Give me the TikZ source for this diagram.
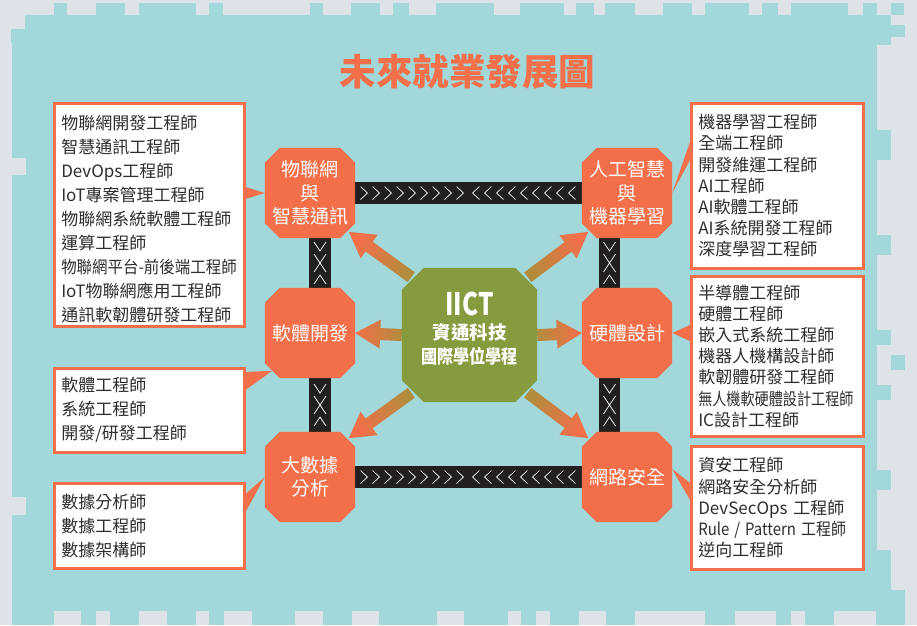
\documentclass[tikz,border=0pt]{standalone}
\usepackage{fontspec}
\usepackage{graphicx}
\usepackage{xcolor}
\setmainfont{Noto Sans CJK TC}
\usetikzlibrary{calc,backgrounds}
\definecolor{aqua}{HTML}{A2D8D9}
\definecolor{mist}{HTML}{DEE3EA}
\definecolor{coral}{HTML}{F36F4A}
\definecolor{moss}{HTML}{869A3E}
\definecolor{ochre}{HTML}{B38B3C}
\definecolor{tar}{HTML}{231F20}
\definecolor{ink}{HTML}{2E2E2E}

\begin{document}
\begin{tikzpicture}[x=1pt,y=-1pt,
        octo/.style={rectangle,minimum width=90pt,minimum height=90pt,inner sep=0pt,text=white,
                align=center,font=\fontsize{19}{23.5}\selectfont},
        hub/.style={rectangle,minimum width=135pt,minimum height=134pt,inner sep=0pt},
        jobs/.style={draw=coral,line width=2.5pt,fill=white,anchor=north west,inner xsep=7pt,
                inner ysep=0pt,align=left,text=ink},
        leftjobs/.style={jobs,text width=176pt,font=\fontsize{17}{24}\selectfont},
        rightjobs/.style={jobs,text width=158pt,font=\fontsize{17}{21.2}\selectfont},
        bar/.style={draw=tar,line width=21.5pt},
        chev/.style={draw=white,line width=0.7pt},
        tail/.style={fill=coral}]
        \node[text=coral,font=\fontsize{36.5}{36.5}\selectfont\bfseries] (title) at (467.5,72) {未來就業發展圖};
        \node[octo] (iot) at (310,193) {物聯網\\與\\智慧通訊};
        \node[octo] (ai) at (627,193) {人工智慧\\與\\機器學習};
        \node[octo] (sw) at (310,333) {軟體開發};
        \node[octo] (hw) at (627,333) {硬體設計};
        \node[octo] (bd) at (310,477) {大數據\\分析};
        \node[octo] (net) at (627,477) {網路安全};
        \node[hub] (iict) at (469.5,335) {};
        \node[text=white,align=center,font=\fontsize{18.5}{24}\selectfont\bfseries] (iictname) at ($(iict)+(0,-6)$)
                {{\fontsize{31}{31}\selectfont\scalebox{0.78}[1]{IICT}}\\資通科技\\\scalebox{0.87}[1]{國際學位學程}};
        \node[leftjobs,minimum height=223pt] (iotjobs) at (53,102) {\rule{0pt}{23pt}物聯網開發工程師\\智慧通訊工程師\\DevOps工程師\\IoT專案管理工程師\\物聯網系統軟體工程師\\運算工程師\\\scalebox{0.91}[1]{物聯網平台-前後端工程師}\\IoT物聯網應用工程師\\通訊軟韌體研發工程師};
        \node[leftjobs,minimum height=84pt] (swjobs) at (53,367) {軟體工程師\\系統工程師\\開發/研發工程師};
        \node[leftjobs,minimum height=85pt] (bdjobs) at (53,482) {數據分析師\\數據工程師\\數據架構師};
        \node[rightjobs,minimum height=165pt] (aijobs) at (690,102) {機器學習工程師\\全端工程師\\開發維運工程師\\AI工程師\\AI軟體工程師\\AI系統開發工程師\\深度學習工程師};
        \node[rightjobs,minimum height=160pt] (hwjobs) at (690,275) {半導體工程師\\硬體工程師\\嵌入式系統工程師\\機器人機構設計師\\軟韌體研發工程師\\\scalebox{0.83}[1]{無人機軟硬體設計工程師}\\IC設計工程師};
        \node[rightjobs,minimum height=123pt] (netjobs) at (690,445) {資安工程師\\網路安全分析師\\DevSecOps 工程師\\\scalebox{0.88}[1]{Rule / Pattern 工程師}\\逆向工程師};
        \fill[tail] ($(iotjobs.east |- iot.west)+(0,-6)$) -- (iot.west) -- ($(iotjobs.east |- iot.west)+(0,6)$) -- cycle;
        \fill[tail] ($(swjobs.north east)+(0,5)$) -- ($(sw)!0.835!(sw.south west)$) -- ($(swjobs.north east)+(0,23)$) -- cycle;
        \fill[tail] ($(bdjobs.north east)+(0,12)$) -- (bd.west) -- ($(bdjobs.north east)+(0,30)$) -- cycle;
        \fill[tail] ($(aijobs.north west)+(0,40)$) -- (ai.east) -- ($(aijobs.north west)+(0,58)$) -- cycle;
        \fill[tail] ($(hwjobs.west |- hw.east)+(0,-8)$) -- (hw.east) -- ($(hwjobs.west |- hw.east)+(0,8)$) -- cycle;
        \fill[tail] ($(netjobs.north west)+(0,38)$) -- ($(net.east)+(0,-8)$) -- ($(netjobs.north west)+(0,55)$) -- cycle;
        \coordinate (topmid) at ($(iot)!0.5!(ai)$);
        \coordinate (botmid) at ($(bd)!0.5!(net)$);
        \coordinate (lmidup) at ($(iot)!0.5!(sw)+(10,0)$);
        \coordinate (lmiddown) at ($(sw)!0.5!(bd)+(10,0)$);
        \coordinate (rmidup) at ($(ai)!0.5!(hw)+(-17.5,0)$);
        \coordinate (rmiddown) at ($(hw)!0.5!(net)+(-17.5,0)$);
        \foreach \m in {topmid,botmid}
                \foreach \k in {0,...,8}
                {
                        \draw[chev] ($(\m)+(-12*\k-12,-6.5)$) -- ++(7pt,-6.5pt) -- ++(-7pt,-6.5pt);
                        \draw[chev] ($(\m)+(12*\k+11,-6.5)$) -- ++(-7pt,-6.5pt) -- ++(7pt,-6.5pt);
                }
        \foreach \m in {lmidup,lmiddown,rmidup,rmiddown}
                \foreach \s in {21,9}
                {
                        \draw[chev] ($(\m)+(-6,-\s)$) -- ++(6pt,-9pt) -- ++(6pt,9pt);
                        \draw[chev] ($(\m)+(-6,\s)$) -- ++(6pt,9pt) -- ++(6pt,-9pt);
                }
        \begin{pgfonlayer}{background}
                \fill[mist] (0,0) rectangle (917,625);
                \fill[aqua] (12,43) rectangle (877,611);
                \fill[aqua] (25,15) rectangle (877,43);
                \fill[aqua] (11,29) rectangle (25,43);
                \fill[mist] (12,158) rectangle (26,175);
                \fill[mist] (12,497) rectangle (26,515);
                \foreach \a/\b in {54/67,96/125,139/196,209/223,310/323,351/380,393/409,436/494,520/564,576/594,605/635,663/692,705/749,762/778,791/848,863/877,891/904}
                        \fill[aqua] (\a,3) rectangle (\b,15);
                \foreach \a/\b in {15/45,130/160,235/255,330/345,385/400,470/490,550/611}
                        \fill[aqua] (877,\a) rectangle (891,\b);
                \foreach \a/\b in {25/37,355/370,590/625}
                        \fill[aqua] (891,\a) rectangle (905,\b);
                \foreach \a/\b in {12/54,81/96,110/139,167/196,209/224,252/295,323/352,379/437,464/508,521/536,550/579,606/635,705/735,776/791,805/834,876/905}
                        \fill[aqua] (\a,611) rectangle (\b,625);
                \draw[bar] (iot) -- (ai);
                \draw[bar] (bd) -- (net);
                \draw[bar] ($(iot)+(10,0)$) -- ($(bd)+(10,0)$);
                \draw[bar] ($(ai)+(-17.5,0)$) -- ($(net)+(-17.5,0)$);
                \foreach \sa/\dn/\da/\f/\ang in {north west/iot/south east/0.86/53.5,north east/ai/south west/0.86/-52.6,west/sw/east/1/90,east/hw/west/1/-90,south west/bd/north east/0.86/125.4,south east/net/north west/0.86/-126.2}
                {
                        \coordinate (tl) at ($(iict)!\f!(iict.\sa)$);
                        \coordinate (tp) at ($(\dn)!\f!(\dn.\da)$);
                        \coordinate (hb) at ($(tp)!25pt!(tl)$);
                        \shade[bottom color=ochre,top color=coral,shading angle=\ang]
                                ($(tl)!6pt!90:(tp)$) -- ($(hb)!6pt!90:(tp)$) -- ($(hb)!14.5pt!90:(tp)$) -- (tp)
                                -- ($(hb)!14.5pt!-90:(tp)$) -- ($(hb)!6pt!-90:(tp)$) -- ($(tl)!6pt!-90:(tp)$) -- cycle;
                }
                \foreach \n/\c/\col in {iot/15/coral,ai/15/coral,sw/15/coral,hw/15/coral,bd/15/coral,net/15/coral,iict/22/moss}
                        \fill[\col] ($(\n.north west)+(\c,0)$) -- ($(\n.north east)+(-\c,0)$) -- ($(\n.north east)+(0,\c)$)
                                -- ($(\n.south east)+(0,-\c)$) -- ($(\n.south east)+(-\c,0)$) -- ($(\n.south west)+(\c,0)$)
                                -- ($(\n.south west)+(0,-\c)$) -- ($(\n.north west)+(0,\c)$) -- cycle;
        \end{pgfonlayer}
\end{tikzpicture}
\end{document}
